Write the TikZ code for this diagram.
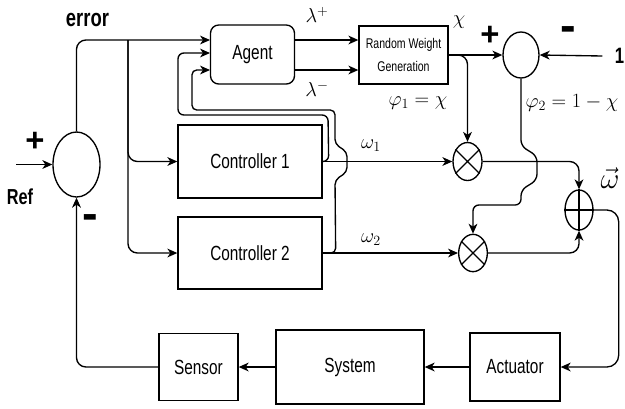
\documentclass[tikz,border=0pt]{standalone}
\usepackage{amsmath,amssymb}
\usepackage[no-math]{fontspec}
\setmainfont{Liberation Sans}[FakeStretch=0.75]
\newfontfamily\signfont{Liberation Sans}
\usetikzlibrary{arrows.meta,shapes.geometric}

\begin{document}
\begin{tikzpicture}[x=0.03cm, y=-0.03cm, line width=1.15pt,
    >={Stealth[length=8.5pt,width=7.5pt,inset=2.5pt]},
    block/.style={draw, inner sep=0pt, font=\fontsize{17.5}{20}\selectfont},
    junction/.style={draw, ellipse, inner sep=0pt},
    mlbl/.style={inner sep=0pt, font=\fontsize{18}{21}\selectfont},
    sign/.style={inner sep=0pt, font=\signfont\fontsize{#1}{#1}\selectfont\bfseries}]
      \useasboundingbox (0,0) rectangle (625,408);

      \node[block, rounded corners=7pt, minimum width=2.52cm, minimum height=1.77cm] (agent) at (252.5,54.5) {Agent};
      \node[block, minimum width=2.67cm, minimum height=1.74cm, align=center,
            font=\fontsize{12}{19.6}\selectfont] (rwg) at (403.5,55) {Random Weight\\Generation};
      \node[block, minimum width=4.32cm, minimum height=2.19cm] (ctrl1) at (250,161.5) {Controller 1};
      \node[block, minimum width=4.32cm, minimum height=2.16cm] (ctrl2) at (250,253) {Controller 2};
      \node[block, minimum width=2.37cm, minimum height=2.01cm] (sensor) at (198.5,367) {Sensor};
      \node[block, minimum width=4.44cm, minimum height=2.22cm] (system) at (350,367) {System};
      \node[block, minimum width=2.7cm, minimum height=2.04cm] (actuator) at (515,367) {Actuator};

      \node[junction, minimum width=1.41cm, minimum height=1.95cm] (sum) at (76.5,164.5) {};
      \node[junction, minimum width=1.08cm, minimum height=1.38cm] (diff) at (521,55) {};
      \node[junction, minimum width=0.87cm, minimum height=1.14cm] (mult1) at (467.5,161.5) {};
      \node[junction, minimum width=0.86cm, minimum height=1.12cm] (mult2) at (473,253) {};
      \node[junction, minimum width=0.84cm, minimum height=1.2cm] (plus) at (579,210) {};
      \draw (mult1.45) -- (mult1.225) (mult1.135) -- (mult1.315);
      \draw (mult2.45) -- (mult2.225) (mult2.135) -- (mult2.315);
      \draw (plus.north) -- (plus.south) (plus.west) -- (plus.east);

      \node[inner sep=0pt, font=\fontsize{21}{24}\selectfont\bfseries] (err) at (87.5,20) {error};
      \node[inner sep=0pt, font=\fontsize{18.5}{21}\selectfont\bfseries] (ref) at (20,197) {Ref};
      \node[sign=28] (pleft) at (35,142) {+};
      \node[sign=40] (mleft) at (90,222) {-};
      \node[sign=28] (pright) at (490,36) {+};
      \node[sign=40] (mright) at (568,34) {-};
      \node[inner sep=0pt, font=\fontsize{19}{21}\selectfont\bfseries] (one) at (619.5,56) {1};

      \node[mlbl] (lp) at (317,15) {$\lambda^{+}$};
      \node[mlbl] (lm) at (317,89) {$\lambda^{-}$};
      \node[mlbl] (chi) at (459,22) {$\chi$};
      \node[mlbl] (phi1) at (418,103) {$\varphi_1 = \chi$};
      \node[mlbl] (phi2) at (572,103) {$\varphi_2 = 1 - \chi$};
      \node[mlbl] (w1) at (371,146) {$\omega_1$};
      \node[mlbl] (w2) at (371,240) {$\omega_2$};
      \node[mlbl, font=\fontsize{28}{30}\selectfont] (wvec) at (610,178) {$\vec{\omega}$};

      \coordinate (refin) at (16,164.5);
      \coordinate (in1) at (210,40);
      \coordinate (in2) at (210,53);
      \coordinate (in3) at (210,70);
      \coordinate (tap) at (128,40);

      \draw[->] (refin) -- (sum.west);
      \draw[->, rounded corners=8pt] (sum.north) |- (in1);
      \draw[->, rounded corners=8pt] (tap) |- (ctrl1.west);
      \draw[->, rounded corners=8pt] (tap) |- (ctrl2.west);

      \draw[->] (agent.east |- in1) -- (rwg.west |- in1);
      \draw[->] (agent.east |- in3) -- (rwg.west |- in3);
      \draw[->] (rwg.east) -- (diff.west);
      \draw[->, rounded corners=8pt] (rwg.east) -| (mult1.north);
      \draw[->] ([xshift=-10pt]one.west) -- (diff.east);
      \draw[->, rounded corners=5pt] (diff.south) -- (521,146) -- (537,156) -- (537,180)
            -- (521,190) -- (521,205) -- (473,205) -- (mult2.north);

      \draw[->, rounded corners=5pt] (ctrl1.east) -- ++(6,0) -- (328,115) -- (178,115) -- (178,53) -- (in2);
      \draw[->, rounded corners=4pt] (ctrl2.east) -- ++(13,0) -- (335,180) -- (347,172) -- (347,152)
            -- (335,144) -- (335,110) -- (192,110) -- (192,70) -- (in3);

      \draw[->] (ctrl1.east) -- (mult1.west);
      \draw[->] (ctrl2.east) -- (mult2.west);
      \draw[->, rounded corners=8pt] (mult1.east) -| (plus.north);
      \draw[->, rounded corners=8pt] (mult2.east) -| (plus.south);
      \draw[->, rounded corners=10pt] (plus.east) -- ++(25,0) |- (actuator.east);
      \draw[->] (actuator.west) -- (system.east);
      \draw[->] (system.west) -- (sensor.east);
      \draw[->, rounded corners=8pt] (sensor.west) -| (sum.south);
    \end{tikzpicture}
\end{document}
